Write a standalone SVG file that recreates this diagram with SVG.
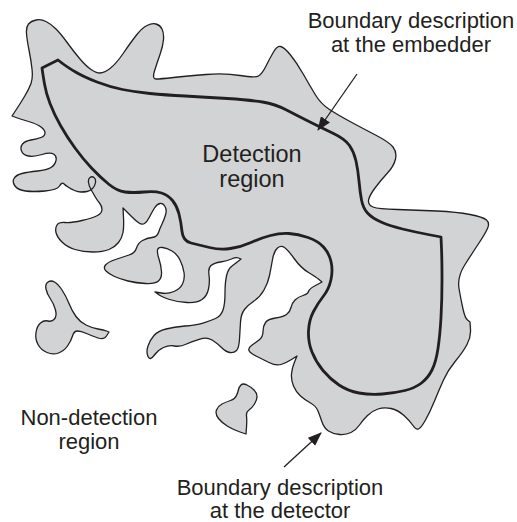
<svg xmlns="http://www.w3.org/2000/svg" width="517" height="522" viewBox="0 0 517 522">
<style>
.area{fill:#d1d3d4;stroke:#231f20;stroke-width:1.3;stroke-linejoin:round}
.embed{fill:none;stroke:#231f20;stroke-width:2.8;stroke-linejoin:round}
.lbl{font-family:"Liberation Sans",Arial,sans-serif;font-size:22px;fill:#231f20;text-anchor:middle}
.big{font-size:23.5px}
.conn{fill:none;stroke:#231f20;stroke-width:1.3}
</style>
<defs>
<marker id="ah" markerUnits="userSpaceOnUse" markerWidth="14" markerHeight="11" refX="13" refY="5.5" orient="auto">
<path d="M0,0 L14,5.5 L0,11 Z" fill="#231f20"/>
</marker>
</defs>
<g id="detection-region">
<path class="area" d="M16,110 Q20,104 24.5,96.5 Q29,89 31,83.5 Q33,78 32,69 Q31,60 29,50 Q27,40 26.5,33.5 Q26,27 28.5,24 Q31,21 36,20 Q41,19 46,21.5 Q51,24 56,29 Q61,34 67.5,43 Q74,52 80,59 Q86,66 91,69.5 Q96,73 100,73 Q104,73 110,68.5 Q116,64 123.5,53 Q131,42 136.5,35 Q142,28 147,25.5 Q152,23 156,24 Q160,25 162,29 Q164,33 163.5,39.5 Q163,46 160,54.5 Q157,63 154.5,71 Q152,79 156,79 Q160,79 173.5,77.5 Q187,76 206,74.5 Q225,73 240,75.5 Q255,78 258.5,76 Q262,74 266,66 Q270,58 273.5,52 Q277,46 280.5,46.5 Q284,47 290.5,55 Q297,63 303.5,74.5 Q310,86 315.5,95 Q321,104 329.5,109.5 Q338,115 350,121.5 Q362,128 375.5,135 Q389,142 393,147 Q397,152 395.5,159 Q394,166 387.5,173 Q381,180 375,188 Q369,196 368.5,200.5 Q368,205 373,207 Q378,209 397.5,209.5 Q417,210 437,211 Q457,212 470,214.5 Q483,217 486.5,220 Q490,223 487.5,228.5 Q485,234 479,243 Q473,252 465,264.5 Q457,277 459,288.5 Q461,300 463,309 Q465,318 467.5,320 L470,322 L470.5,329.5 Q471,337 467,344.5 Q463,352 455.5,361 Q448,370 443.5,380 Q439,390 434.5,401 Q430,412 425.5,420 Q421,428 418.5,429 Q416,430 413,425.5 Q410,421 404,415.5 Q398,410 391,408.5 Q384,407 378,409 Q372,411 367.5,415.5 Q363,420 359.5,425 Q356,430 351,432.5 Q346,435 339.5,434.5 Q333,434 328.5,431 Q324,428 322,422 Q320,416 318,411 Q316,406 310.5,403 Q305,400 300.5,396 Q296,392 293.5,386 Q291,380 291.5,374 Q292,368 294.5,362 L297,356 L291.5,359.5 Q286,363 281,364.5 Q276,366 269,362.5 Q262,359 256,356 Q250,353 249,350.5 Q248,348 251.5,345.5 Q255,343 259,340 Q263,337 263,331.5 Q263,326 265.5,322.5 Q268,319 275.5,318 Q283,317 286.5,314.5 Q290,312 291,307.5 Q292,303 295,300 Q298,297 303,295.5 Q308,294 308.5,291.5 Q309,289 315.5,285.5 L322,282 L319,279.5 Q316,277 308.5,272.5 Q301,268 294.5,259 Q288,250 284.5,247.5 Q281,245 277.5,248 Q274,251 272.5,259.5 Q271,268 269.5,275.5 Q268,283 264,290 Q260,297 254,301 Q248,305 244.5,309.5 Q241,314 240.5,322 Q240,330 239.5,339 Q239,348 236.5,350.5 Q234,353 230,352.5 Q226,352 221.5,347.5 Q217,343 212,340 Q207,337 200,339 Q193,341 186.5,344 Q180,347 174.5,346 Q169,345 163.5,347.5 Q158,350 154,355.5 Q150,361 148,356.5 Q146,352 148,346 Q150,340 154,335.5 Q158,331 166,329 Q174,327 185,326 Q196,325 203,323 Q210,321 215.5,318.5 Q221,316 223,310 Q225,304 225,293.5 Q225,283 226.5,276 Q228,269 232,266 Q236,263 238.5,261 L241,259 L238.5,258 Q236,257 231.5,259 Q227,261 220.5,262 Q214,263 211,265.5 Q208,268 209,275 Q210,282 208.5,289 Q207,296 202,299.5 Q197,303 187,302.5 Q177,302 169.5,299.5 Q162,297 158.5,294.5 L155,292 L161.5,293 Q168,294 174,291.5 Q180,289 182.5,284 Q185,279 184,272.5 Q183,266 180,260 Q177,254 172,251 Q167,248 162.5,247.5 Q158,247 157.5,250 Q157,253 159,259 Q161,265 161.5,271.5 Q162,278 158.5,281 Q155,284 145.5,283.5 Q136,283 128,281 Q120,279 114.5,276.5 Q109,274 106,271 Q103,268 105.5,265 Q108,262 115.5,259.5 Q123,257 129,255 Q135,253 136.5,248 Q138,243 142.5,240.5 Q147,238 152,237.5 Q157,237 158.5,232.5 Q160,228 162,224 Q164,220 165.5,215 Q167,210 165,206.5 Q163,203 160,203.5 Q157,204 154.5,208 Q152,212 149.5,217 Q147,222 144.5,223.5 Q142,225 139,223 Q136,221 132,217 Q128,213 125.5,210.5 L123,208 L123.5,217.5 Q124,227 123,232.5 Q122,238 118.5,242.5 Q115,247 109,249.5 Q103,252 93,252 Q83,252 75,249.5 Q67,247 62,242 Q57,237 56,232.5 Q55,228 57,225 Q59,222 65,222.5 Q71,223 82,220.5 Q93,218 97.5,215.5 Q102,213 102,209.5 Q102,206 99.5,203 Q97,200 95,196.5 Q93,193 91,189.5 Q89,186 88.5,182.5 Q88,179 90,177.5 Q92,176 94,177.5 Q96,179 95.5,182.5 Q95,186 92.5,188.5 Q90,191 87,191.5 Q84,192 81,192 Q78,192 74.5,190.5 Q71,189 68,187 Q65,185 63.5,183.5 Q62,182 59.5,186 Q57,190 45,191 Q33,192 25.5,191 Q18,190 15,186 Q12,182 14,178.5 Q16,175 22,173.5 Q28,172 37.5,171 Q47,170 51,167.5 Q55,165 56,160.5 Q57,156 53.5,154 Q50,152 42,154.5 Q34,157 28.5,156 Q23,155 21.5,151 Q20,147 22.5,144 Q25,141 31,140 Q37,139 41,137.5 Q45,136 45,133 Q45,130 41,127 Q37,124 28.5,121.5 Q20,119 16,117.5 L12,116 L16,110 Z"/>
</g>
<g id="island-left">
<path class="area" d="M48,282 Q51,280 54.5,282 Q58,284 62,290 Q66,296 69,303.5 Q72,311 76,316.5 Q80,322 86,325 Q92,328 98,329 Q104,330 106.5,331 L109,332 L106.5,336 Q104,340 98,338 Q92,336 86.5,333.5 Q81,331 77.5,331 Q74,331 72.5,336 Q71,341 67.5,346 Q64,351 58.5,353 Q53,355 47,352.5 Q41,350 38,344.5 Q35,339 36,332.5 Q37,326 40.5,323 Q44,320 48,321 Q52,322 54.5,319 Q57,316 55.5,310 Q54,304 50.5,299 Q47,294 46,289 Q45,284 48,282 Z"/>
</g>
<g id="island-bottom">
<path class="area" d="M247,385 Q251,387 254,390 Q257,393 257,396.5 Q257,400 254.5,404 Q252,408 249,410 Q246,412 246.5,416 Q247,420 246.5,427 L246,434 L240,432 Q234,430 228,426.5 Q222,423 218.5,418.5 Q215,414 216.5,410 Q218,406 222,404 Q226,402 230.5,400.5 Q235,399 236.5,395.5 Q238,392 238.5,389.5 Q239,387 241,385 Q243,383 247,385 Z"/>
</g>
<g id="embedder-boundary">
<path class="embed" d="M42,68 L58,60 L62.5,63.5 Q67,67 75.5,72 Q84,77 97,82 Q110,87 122.5,89.5 Q135,92 150,93.5 Q165,95 185,96 Q205,97 227.5,98.5 Q250,100 262.5,102 Q275,104 286.5,110 Q298,116 310,122 Q322,128 333.5,133.5 Q345,139 349.5,145.5 Q354,152 356,161 Q358,170 359,181 Q360,192 361.5,200 Q363,208 367.5,213 Q372,218 381,222 Q390,226 402.5,229 Q415,232 428,234.5 L441,237 L441.5,248.5 Q442,260 442,280 Q442,300 441,317.5 Q440,335 438,348.5 Q436,362 432,370 Q428,378 421.5,383 Q415,388 405,390.5 Q395,393 382.5,394 Q370,395 359,393 Q348,391 339,385 Q330,379 323,370.5 Q316,362 312,352 Q308,342 308.5,331 Q309,320 313.5,311.5 Q318,303 323.5,296 Q329,289 331,279.5 Q333,270 331,261.5 Q329,253 323.5,247 Q318,241 308,237.5 Q298,234 289,233.5 Q280,233 270.5,235.5 Q261,238 251,242.5 Q241,247 230.5,248.5 Q220,250 209.5,247.5 Q199,245 191,243 Q183,241 182,231.5 Q181,222 179,214 Q177,206 172.5,200.5 Q168,195 161.5,193 Q155,191 144,192 Q133,193 125,192 Q117,191 108.5,184 Q100,177 91.5,168 Q83,159 75,148 Q67,137 60.5,125.5 Q54,114 50,103.5 Q46,93 44.5,84 Q43,75 42.5,71.5 L42,68 Z"/>
</g>
<g id="connectors">
<line class="conn" x1="357" y1="74" x2="318" y2="130" marker-end="url(#ah)"/>
<line class="conn" x1="284" y1="467" x2="321" y2="433" marker-end="url(#ah)"/>
</g>
<g id="label-embedder">
<text class="lbl" x="411" y="28">Boundary description</text>
<text class="lbl" x="411" y="52">at the embedder</text>
</g>
<g id="label-detection">
<text class="lbl big" x="252" y="162">Detection</text>
<text class="lbl big" x="252" y="187">region</text>
</g>
<g id="label-nondetection">
<text class="lbl" x="89" y="425">Non-detection</text>
<text class="lbl" x="89" y="449">region</text>
</g>
<g id="label-detector">
<text class="lbl" x="280" y="495">Boundary description</text>
<text class="lbl" x="280" y="518">at the detector</text>
</g>
</svg>
